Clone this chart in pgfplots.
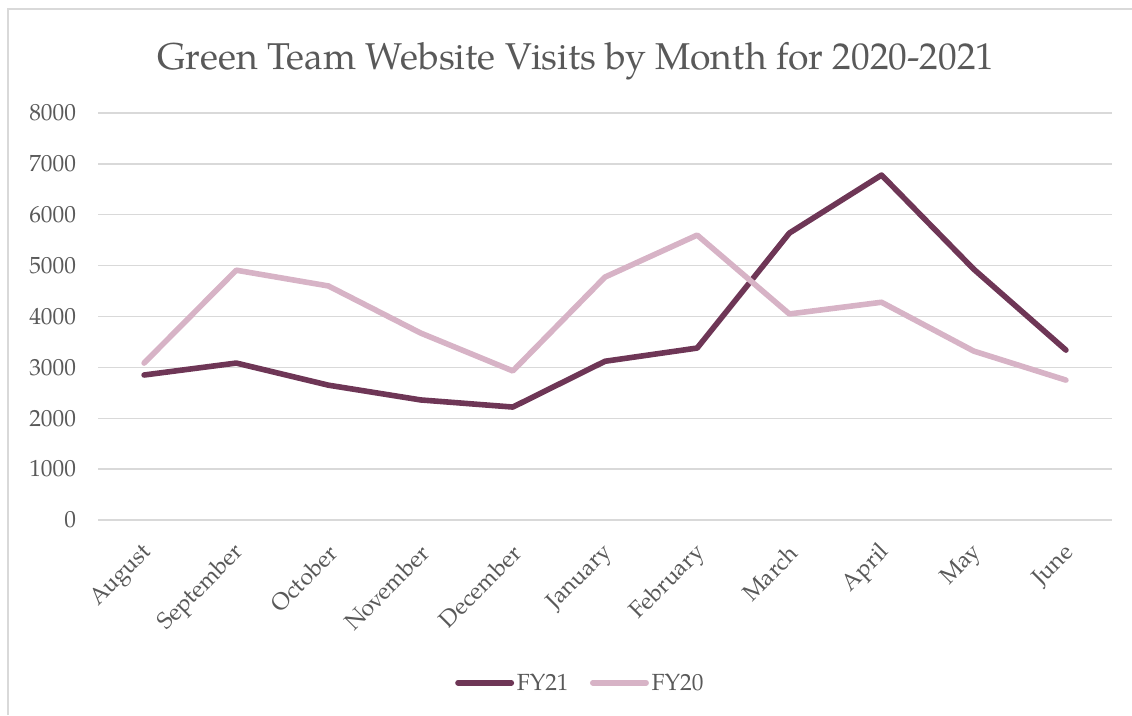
\documentclass[border=0pt]{standalone}
\usepackage{pgfplots}
\pgfplotsset{compat=1.18}
\usepackage{fontspec}
\setmainfont{TeX Gyre Pagella}
\definecolor{fytwoone}{HTML}{6E3656}
\definecolor{fytwozero}{HTML}{D7B3C6}
\definecolor{txt}{HTML}{595959}
\definecolor{gridc}{HTML}{D9D9D9}
\begin{document}
\begin{tikzpicture}[x=0.75pt,y=0.75pt]
\useasboundingbox (0,0) rectangle (1132,715);
\draw[gridc,line width=1.2pt] (8,0) -- (8,706) -- (1132,706);
\node[txt,font=\fontsize{28}{32}\selectfont] at (576,654) {Green Team Website Visits by Month for 2020-2021};
\begin{axis}[
  at={(73.5pt,146.25pt)}, anchor=south west,
  scale only axis, width=760.5pt, height=305.25pt,
  xmin=-0.5, xmax=10.5, ymin=0, ymax=8000,
  ytick={0,1000,...,8000},
  xtick={0,...,10},
  xticklabels={August,September,October,November,December,January,February,March,April,May,June},
  axis line style={draw=none},
  major tick length=0pt,
  ymajorgrids, grid style={gridc,line width=1.1pt},
  tick label style={txt,font=\fontsize{17.5}{20}\selectfont},
  /pgf/number format/assume math mode=true,
  /pgf/number format/1000 sep={},
  yticklabel style={xshift=-13pt},
  xticklabel style={xshift=3.4pt, yshift=-22pt, rotate=45, anchor=east, inner sep=0pt},
  legend columns=2,
  legend style={at={(0.476,-0.40)}, anchor=center, draw=none, fill=none,
    font=\fontsize{17.5}{20}\selectfont, text=txt,
    /tikz/every even column/.append style={column sep=14pt}},
  legend image code/.code={\draw[#1, line cap=round] (0pt,0pt) -- (40pt,0pt);},
  clip=false,
]
\addplot[fytwoone, line width=4.2pt, line join=round, line cap=round] coordinates {
(0,2850) (1,3085) (2,2650) (3,2360) (4,2220) (5,3120) (6,3380) (7,5640) (8,6780) (9,4930) (10,3340)};
\addlegendentry{FY21}
\addplot[fytwozero, line width=4.2pt, line join=round, line cap=round] coordinates {
(0,3085) (1,4910) (2,4600) (3,3675) (4,2930) (5,4775) (6,5600) (7,4050) (8,4280) (9,3320) (10,2750)};
\addlegendentry{FY20}
\end{axis}
\end{tikzpicture}
\end{document}
